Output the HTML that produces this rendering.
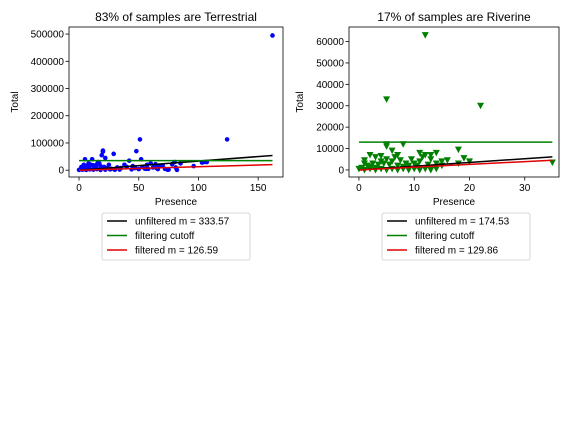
<!DOCTYPE html>
<html><head><meta charset="utf-8"><style>
body{margin:0;background:#fff;width:576px;height:432px;overflow:hidden}
svg{font-family:"Liberation Sans","DejaVu Sans",sans-serif}
</style></head><body>
<svg id="fig" width="576" height="432" xmlns="http://www.w3.org/2000/svg"></svg>
<script>
// Terrestrial data
const terrX = [0,1,2,3,4,5,5,6,7,8,9,10,11,12,13,14,15,16,17,18,19,20,20,21,22,23,25,27,29,30,32,35,38,40,42,45,47,48,50,51,52,53,55,57,58,60,62,64,65,67,70,72,75,78,80,81,82,85,96,103,105,107,124,162,3,6,9,12,15,18,22,26,30,34,44,56,66,74];
const terrY = [1000,3000,12000,5000,20000,40000,8000,15000,10000,25000,6000,20000,40000,18000,9000,12000,22000,30000,25000,15000,55000,72000,68000,12000,45000,8000,20000,5000,60000,3000,10000,8000,20000,12000,35000,15000,8000,70000,4000,113000,40000,12000,6000,20000,5000,25000,10000,22000,8000,15000,18000,5000,2000,22000,30000,10000,1000,25000,15000,28000,30000,30000,113000,495000,2000,1000,3000,2000,4000,1000,2000,3000,1500,2500,3000,5000,4000,2000];
const terrStats = [333.57, 35000, 126.59];
// Riverine data
const rivX = [0,0.5,1,1,1.5,2,2,2.5,3,3,3.5,4,4,4.5,5,5,5,5,5.5,6,6,6.5,7,7,7.5,8,8,8.5,9,9.5,10,10.5,11,11,11.5,12,12,12.5,13,13,14,14,15,15,16,18,18,19,20,22,35,1,3,5,7,9,11,13,2,4,6,8,10,12,14];
const rivY = [500,1000,3000,4500,2000,7000,1500,3000,6000,1000,2500,4000,6500,3000,12000,11000,33000,5000,2500,9000,4000,6000,7000,2000,4500,12000,1500,3000,2000,5000,3000,2000,8000,4000,6000,63000,7000,2500,5000,7000,3000,8000,4000,2000,4500,9500,3000,5500,4000,30000,3500,0,0,0,0,0,0,0,500,500,500,500,500,500,500];
const rivStats = [174.53, 13000, 129.86];

const NS="http://www.w3.org/2000/svg", svg=document.getElementById('fig');
function el(t,a,p){const e=document.createElementNS(NS,t);for(const k in a)e.setAttribute(k,a[k]);(p||svg).appendChild(e);return e;}
function txt(s,a,p){const e=el('text',a,p);e.textContent=s;return e;}

function panel(o){
  const g=el('g',{});
  
  
  const sx=v=>o.L+(v-o.x0)*(o.R-o.L)/(o.x1-o.x0);
  const sy=v=>o.B-(v-o.y0)*(o.B-o.T)/(o.y1-o.y0);
  // points
  const pts=el('g',{},g);
  
  
  o.xs.forEach((x,i)=>{
    const X=sx(x),Y=sy(o.ys[i]);
    let m;
    if(o.tri) m=el('path',{d:`M${X-3.5},${Y-3} L${X+3.5},${Y-3} L${X},${Y+3.5} Z`,fill:'#008000'},pts);
    else m=el('circle',{cx:X,cy:Y,r:2.3,fill:'#0000ff'},pts);
    
    
  });
  const xe=o.xend;
  const lines=[['unfiltered-fit',o.st[0],'#000'],['filtering-cutoff',0,'#008000'],['filtered-fit',o.st[2],'#e00000']];
  lines.forEach(([n,m,c],k)=>{
    let y0=k==1?o.st[1]:0, y1=k==1?o.st[1]:m*xe;
    const l=el('line',{x1:sx(0),y1:sy(y0),x2:sx(xe),y2:sy(y1),stroke:c,'stroke-width':1.5},g);
    
    
  });
  const fr=el('rect',{x:o.L,y:o.T,width:o.R-o.L,height:o.B-o.T,fill:'none',stroke:'#000','stroke-width':0.8},g);
  
  
  o.xt.forEach(v=>{el('line',{x1:sx(v),x2:sx(v),y1:o.B,y2:o.B+3.5,stroke:'#000','stroke-width':0.8},g);
    const t=txt(String(v),{x:sx(v),y:o.B+14,'font-size':10,'text-anchor':'middle'},g);
    });
  o.yt.forEach(v=>{el('line',{x1:o.L-3.5,x2:o.L,y1:sy(v),y2:sy(v),stroke:'#000','stroke-width':0.8},g);
    const t=txt(String(v),{x:o.L-5,y:sy(v)+3.5,'font-size':10,'text-anchor':'end'},g);
    });
  let t=txt(o.title,{x:(o.L+o.R)/2,y:o.T-6,'font-size':12,'text-anchor':'middle'},g);
  
  t=txt('Presence',{x:(o.L+o.R)/2,y:o.B+28,'font-size':10,'text-anchor':'middle'},g);
  
  t=txt('Total',{x:0,y:0,'font-size':10,'text-anchor':'middle',transform:`translate(${o.ylx},${(o.T+o.B)/2}) rotate(-90)`},g);
  
  // legend
  const lg=el('g',{},g);
  
  
  el('rect',{x:o.lgx,y:213,width:148,height:47,rx:2,fill:'#fff',stroke:'#ccc','stroke-width':0.8},lg);
  const labs=['unfiltered m = '+o.st[0].toFixed(2),'filtering cutoff','filtered m = '+o.st[2].toFixed(2)];
  ['#000','#008000','#e00000'].forEach((c,i)=>{
    const y=221+i*14.5;
    el('line',{x1:o.lgx+5,x2:o.lgx+25,y1:y,y2:y,stroke:c,'stroke-width':1.5},lg);
    const e=txt(labs[i],{x:o.lgx+33,y:y+3.5,'font-size':10},lg);
    
  });
}
panel({name:'terrestrial-chart',title:'83% of samples are Terrestrial',L:69,R:283,T:27,B:177,x0:-8.4,x1:170.8,y0:-25000,y1:526000,
  xs:terrX,ys:terrY,st:terrStats,xend:162,tri:false,xt:[0,50,100,150],yt:[0,100000,200000,300000,400000,500000],ylx:18,lgx:102});
panel({name:'riverine-chart',title:'17% of samples are Riverine',L:349,R:559,T:27,B:177,x0:-1.8,x1:36.2,y0:-3300,y1:66800,
  xs:rivX,ys:rivY,st:rivStats,xend:35,tri:true,xt:[0,10,20,30],yt:[0,10000,20000,30000,40000,50000,60000],ylx:303,lgx:382});
</script>
</body></html>
